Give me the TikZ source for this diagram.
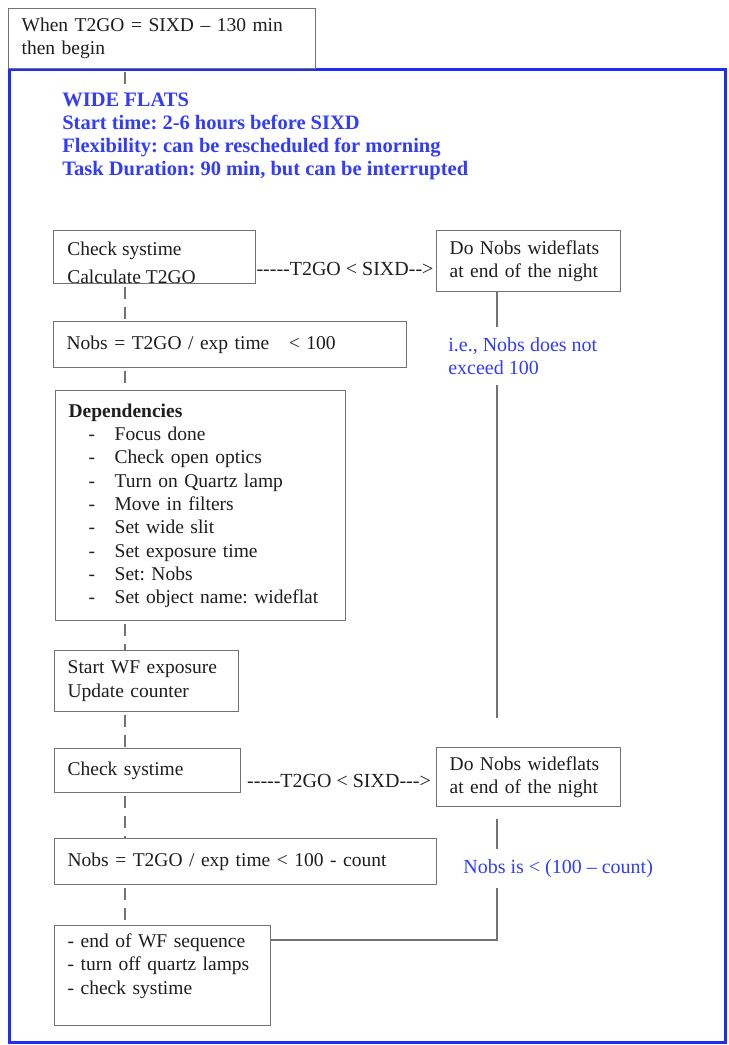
\documentclass[tikz,border=0pt]{standalone}
\usepackage{fontspec}
\setmainfont{Liberation Serif}
\newfontfamily\nolig{Liberation Serif}
\frenchspacing
\definecolor{frameblue}{RGB}{30,45,250}
\definecolor{noteblue}{RGB}{50,60,250}
\definecolor{linegray}{RGB}{115,115,115}
\definecolor{txtgray}{RGB}{30,30,30}
\newcommand{\dep}[1]{\hspace*{12pt}\makebox[15.6pt][l]{-}#1}

\begin{document}
\begin{tikzpicture}[x=0.6pt,y=-0.6pt,
  font=\fontsize{11.7}{14}\selectfont,
  box/.style 2 args={draw=linegray,fill=white,line width=0.8pt,anchor=north west,
    text=txtgray,align=left,inner xsep=7.8pt,inner ysep=0pt,
    /utils/exec={\pgfmathsetmacro\boxtw{#1*0.6-15.6}},text width=\boxtw pt,
    minimum width=#1*0.6pt,minimum height=#2*0.6pt},
  cond/.style={text=txtgray,font=\nolig\fontsize{12}{14}\selectfont,inner sep=0pt},
  note/.style={text=noteblue,font=\fontsize{12}{14}\selectfont,align=left,anchor=north west,inner xsep=0pt,inner ysep=6pt},
  link/.style={draw=linegray,line width=0.8pt},
  dashlink/.style={link,dash pattern=on 7.2pt off 4.8pt,dash phase=10.2pt}]
   \useasboundingbox (0,0) rectangle (728,1045);
   \draw[frameblue,line width=1.8pt] (9.5,69.5) rectangle (725.5,1042.5);
   \coordinate (lx) at (125,0);
   \coordinate (rx) at (497,0);

   \node[box={307}{60}] (start) at (8,8) {When T2GO = SIXD – 130 min\\then begin};
   \node[anchor=north west,inner sep=0pt,align=left,text=noteblue,font=\bfseries\fontsize{12.3}{13.8}\selectfont] (title) at (62,92.5)
     {WIDE FLATS\\Start time: 2-6 hours before SIXD\\Flexibility: can be rescheduled for morning\\Task Duration: 90 min, but can be interrupted};

   % first check, text runs under the box edge
   \node[box={202}{53}] (chk1) at (53,230) {};
   \begin{scope}
     \clip (53,230) rectangle (255,282.6);
     \node[anchor=north west,inner sep=0pt,align=left,text=txtgray,font=\fontsize{11.7}{16.3}\selectfont] (chk1txt) at (67,242)
       {Check systime\\Calculate T2GO};
   \end{scope}
   \node[cond] (cond1) at (345,269) {-----T2GO < SIXD-->};
   \node[box={184}{61}] (night1) at (436,230) {Do Nobs wideflats\\at end of the night};
   \node[box={353}{46}] (nobs1) at (53,321) {Nobs = T2GO / exp time~~~< 100};
   \node[note] (note1) at (448,327) {i.e., Nobs does not\\exceed 100};
   \coordinate (e1) at (497,718);

   \node[box={290}{230}] (deps) at (55,390) {\textbf{Dependencies}\\\dep{Focus done}\\\dep{Check open optics}\\
     \dep{Turn on Quartz lamp}\\\dep{Move in filters}\\\dep{Set wide slit}\\\dep{Set exposure time}\\
     \dep{Set: Nobs}\\\dep{Set object name: wideflat}};
   \node[box={184}{61}] (wfexp) at (54,650) {Start WF exposure\\Update counter};

   % second check
   \node[box={186}{44}] (chk2) at (54,748) {Check systime};
   \node[cond] (cond2) at (339,781) {-----T2GO < SIXD--->};
   \node[box={184}{59}] (night2) at (436,747) {Do Nobs wideflats\\at end of the night};
   \node[box={382}{46}] (nobs2) at (54,838) {Nobs = T2GO / exp time < 100 - count};
   \node[note] (note2) at (463,849) {Nobs is < (100 – count)};
   \node[box={216}{100},inner xsep=4.8pt] (endwf) at (54,925) {- end of WF sequence\\- turn off quartz lamps\\- check systime\\~};
   \coordinate (c2) at (497,940);

   \draw[dashlink] (start.south -| lx) -- (title.north -| lx);
   \draw[dashlink] (chk1.south -| lx) -- (nobs1.north -| lx);
   \draw[dashlink] (nobs1.south -| lx) -- (deps.north -| lx);
   \draw[dashlink] (deps.south -| lx) -- (wfexp.north -| lx);
   \draw[dashlink] (wfexp.south -| lx) -- (chk2.north -| lx);
   \draw[dashlink] (chk2.south -| lx) -- (nobs2.north -| lx);
   \draw[dashlink] (nobs2.south -| lx) -- (endwf.north -| lx);

   \draw[link] (night1.south -| rx) -- (note1.north -| rx);
   \draw[link] (note1.south -| rx) -- (e1);
   \draw[link,shorten <=7.2pt] (night2.south -| rx) -- (note2.north -| rx);
   \draw[link] (note2.south -| rx) -- (c2) -- (endwf.east |- c2);
\end{tikzpicture}
\end{document}
